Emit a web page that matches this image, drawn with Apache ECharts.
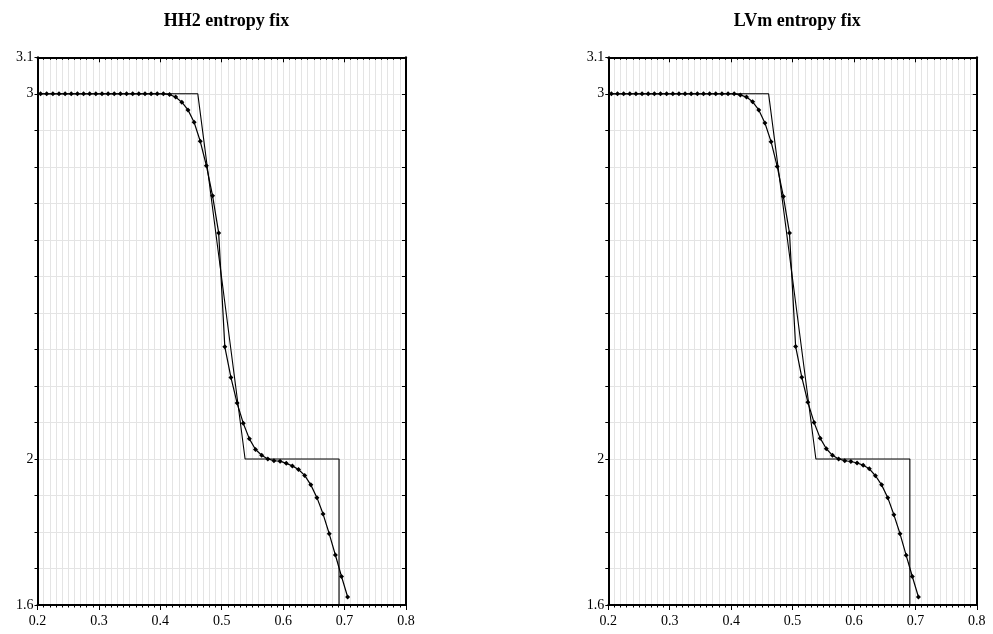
<!DOCTYPE html>
<html>
<head>
<meta charset="utf-8">
<script src="https://cdn.jsdelivr.net/npm/echarts@6/dist/echarts.min.js"></script>
<style>
  html, body { margin: 0; padding: 0; background: #fff; }
  #chart { width: 993px; height: 634px; }
</style>
</head>
<body>
<div id="chart"></div>
<script>
// panel titles
var titles = ['HH2 entropy fix', 'LVm entropy fix'];

// cell centres of the numerical solution
var xCells = [
  0.205, 0.215, 0.225, 0.235, 0.245, 0.255, 0.265, 0.275, 0.285, 0.295,
  0.305, 0.315, 0.325, 0.335, 0.345, 0.355, 0.365, 0.375, 0.385, 0.395,
  0.405, 0.415, 0.425, 0.435, 0.445, 0.455, 0.465, 0.475, 0.485, 0.495,
  0.505, 0.515, 0.525, 0.535, 0.545, 0.555, 0.565, 0.575, 0.585, 0.595,
  0.605, 0.615, 0.625, 0.635, 0.645, 0.655, 0.665, 0.675, 0.685, 0.695,
  0.705
];

// HH2 numerical values
var hh2Values = [
  3.000, 3.000, 3.000, 3.000, 3.000, 3.000, 3.000, 3.000, 3.000, 3.000,
  3.000, 3.000, 3.000, 3.000, 3.000, 3.000, 3.000, 3.000, 3.000, 3.000,
  3.000, 2.998, 2.991, 2.977, 2.956, 2.922, 2.870, 2.803, 2.721, 2.619,
  2.307, 2.223, 2.153, 2.098, 2.055, 2.026, 2.010, 2.000, 1.995, 1.994,
  1.988, 1.981, 1.971, 1.955, 1.929, 1.894, 1.849, 1.795, 1.737, 1.678,
  1.622
];

// LVm numerical values
var lvmValues = [
  3.000, 3.000, 3.000, 3.000, 3.000, 3.000, 3.000, 3.000, 3.000, 3.000,
  3.000, 3.000, 3.000, 3.000, 3.000, 3.000, 3.000, 3.000, 3.000, 3.000,
  3.000, 2.997, 2.991, 2.978, 2.956, 2.920, 2.869, 2.801, 2.719, 2.619,
  2.308, 2.224, 2.155, 2.100, 2.057, 2.028, 2.010, 2.000, 1.995, 1.993,
  1.989, 1.983, 1.973, 1.954, 1.929, 1.894, 1.847, 1.795, 1.736, 1.678,
  1.622
];

// exact solution corners
var exactX = [0.2, 0.461, 0.538, 0.691, 0.691];
var exactY = [3.0, 3.0, 2.0, 2.0, 1.6];

// y labels that are printed
var yLabelValues = [3.1, 3, 2, 1.6];

var FONT = '"Liberation Serif", "DejaVu Serif", serif';
var gridColor = '#e4e4e4';

function zip(xs, ys) {
  return xs.map(function (x, i) { return [x, ys[i]]; });
}

function yLabel(v) {
  for (var i = 0; i < yLabelValues.length; i++) {
    if (Math.abs(v - yLabelValues[i]) < 1e-6) {
      return String(Math.round(v * 10) / 10);
    }
  }
  return '';
}

var panelLeft = [37.5, 608.3];

var grids = [];
var xAxes = [];
var yAxes = [];
var series = [];
var titleList = [];

panelLeft.forEach(function (left, g) {
  grids.push({ left: left, top: 57.3, width: 368.5, height: 547.7 });

  titleList.push({
    text: titles[g],
    left: left + 184,
    top: 7,
    textAlign: 'center',
    textStyle: { fontFamily: FONT, fontSize: 18, fontWeight: 'bold', color: '#000' }
  });

  // bottom x axis
  xAxes.push({
    type: 'value', gridIndex: g, position: 'bottom',
    min: 0.2, max: 0.8, interval: 0.1,
    axisLine: { show: true, onZero: false, lineStyle: { color: '#000', width: 2 } },
    axisTick: { show: true, inside: false, length: 5, lineStyle: { color: '#000', width: 1 } },
    minorTick: { show: true, splitNumber: 10, length: 2.5, lineStyle: { color: '#000', width: 1 } },
    axisLabel: { color: '#000', fontFamily: FONT, fontSize: 14, margin: 9 },
    splitLine: { show: true, lineStyle: { color: gridColor, width: 1 } },
    minorSplitLine: { show: true, lineStyle: { color: gridColor, width: 1 } }
  });
  // top x axis, ticks only
  xAxes.push({
    type: 'value', gridIndex: g, position: 'top',
    min: 0.2, max: 0.8, interval: 0.1,
    axisLine: { show: true, onZero: false, lineStyle: { color: '#000', width: 2 } },
    axisTick: { show: true, inside: true, length: 5, lineStyle: { color: '#000', width: 1 } },
    minorTick: { show: true, splitNumber: 10, length: 2.5, lineStyle: { color: '#000', width: 1 } },
    axisLabel: { show: false },
    splitLine: { show: false }
  });

  // left y axis
  yAxes.push({
    type: 'value', gridIndex: g, position: 'left',
    min: 1.6, max: 3.1, interval: 0.1,
    axisLine: { show: true, onZero: false, lineStyle: { color: '#000', width: 2 } },
    axisTick: { show: true, inside: false, length: 3, lineStyle: { color: '#000', width: 1 } },
    axisLabel: { color: '#000', fontFamily: FONT, fontSize: 14, margin: 4, formatter: yLabel, showMinLabel: true, showMaxLabel: true },
    splitLine: { show: true, lineStyle: { color: gridColor, width: 1 } }
  });
  // right y axis, ticks only
  yAxes.push({
    type: 'value', gridIndex: g, position: 'right',
    min: 1.6, max: 3.1, interval: 0.1,
    axisLine: { show: true, onZero: false, lineStyle: { color: '#000', width: 2 } },
    axisTick: { show: true, inside: true, length: 4, lineStyle: { color: '#000', width: 1 } },
    axisLabel: { show: false },
    splitLine: { show: false }
  });

  // exact solution
  series.push({
    type: 'line',
    xAxisIndex: g * 2, yAxisIndex: g * 2,
    data: zip(exactX, exactY),
    showSymbol: false,
    lineStyle: { color: '#000', width: 1.1 },
    animation: false,
    z: 3
  });
  // numerical solution
  series.push({
    type: 'line',
    xAxisIndex: g * 2, yAxisIndex: g * 2,
    data: zip(xCells, g === 0 ? hh2Values : lvmValues),
    symbol: 'diamond',
    symbolSize: 5,
    itemStyle: { color: '#000', borderWidth: 0 },
    lineStyle: { color: '#000', width: 1.2 },
    animation: false,
    z: 4
  });
});

var chart = echarts.init(document.getElementById('chart'), null, { renderer: 'canvas' });
chart.setOption({
  animation: false,
  backgroundColor: '#fff',
  title: titleList,
  grid: grids,
  xAxis: xAxes,
  yAxis: yAxes,
  series: series
});
</script>
</body>
</html>
